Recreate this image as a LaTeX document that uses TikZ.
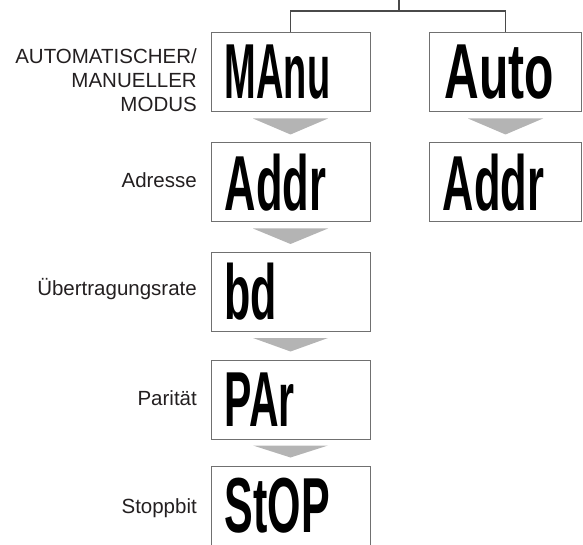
\documentclass[tikz,border=0pt]{standalone}
\usepackage{fontspec}
\setmainfont{Liberation Sans}
\usepackage{tikz}
\usetikzlibrary{
	positioning,
	calc
}
\usepackage{xcolor}
\definecolor{labelgray}{HTML}{231F20}
\definecolor{framegray}{HTML}{707070}
\definecolor{linegray}{HTML}{4A4A4A}
\definecolor{flowgray}{HTML}{B4B4B4}

\tikzset{
	lcdbox/.style={draw=framegray, line width=1pt, minimum height=79pt, inner sep=0pt},
	lcdtext/.style={anchor=west, inner sep=0pt, font=\bfseries\fontsize{50}{50}\selectfont},
	steplabel/.style={anchor=base east, inner sep=0pt, text=labelgray, font=\fontsize{20.5}{24}\selectfont},
	flow/.style={fill=flowgray},
	link/.style={draw=linegray, line width=1.3pt}
}

\begin{document}
\begin{tikzpicture}[x=1pt,y=1pt]
		
		\useasboundingbox (0,0) rectangle (583,544);
		
		% Displays, left column
		\node[lcdbox, minimum width=159pt] (manu) at (290.5,471.5) {};
		\node[lcdbox, minimum width=159pt] (addrL) at (290.5,361.5) {};
		\node[lcdbox, minimum width=159pt] (bd) at (290.5,252) {};
		\node[lcdbox, minimum width=159pt] (par) at (290.5,144.5) {};
		\node[lcdbox, minimum width=159pt] (stop) at (290.5,38.5) {};
		
		% Displays, right column
		\node[lcdbox, minimum width=152.5pt] (auto) at (505.5,471.5) {};
		\node[lcdbox, minimum width=152.5pt] (addrR) at (505.5,361.5) {};
		
		% Readings
		\node[lcdtext] (manuT) at ([xshift=14pt]manu.west) {\scalebox{0.76}[1.56]{MAnu}};
		\node[lcdtext] (addrLT) at ([xshift=14pt]addrL.west) {\scalebox{0.87}[1.56]{Addr}};
		\node[lcdtext] (bdT) at ([xshift=14pt]bd.west) {\scalebox{0.86}[1.56]{bd}};
		\node[lcdtext] (parT) at ([xshift=14pt]par.west) {\scalebox{0.82}[1.56]{PAr}};
		\node[lcdtext] (stopT) at ([xshift=14pt]stop.west) {\scalebox{0.86}[1.56]{StOP}};
		\node[lcdtext] (autoT) at ([xshift=16pt]auto.west) {\scalebox{0.96}[1.56]{Auto}};
		\node[lcdtext] (addrRT) at ([xshift=14pt]addrR.west) {\scalebox{0.87}[1.56]{Addr}};
		
		% Labels
		\node[steplabel, anchor=east, align=right] (modeL) at (197,463.5)
		{AUTOMATISCHER/\\MANUELLER\\MODUS};
		\node[steplabel] (addrN) at (197,356) {Adresse};
		\node[steplabel] (bdN) at (197,248) {Übertragungsrate};
		\node[steplabel] (parN) at (197,139) {Parität};
		\node[steplabel] (stopN) at (197,31) {Stoppbit};
		
		% Flow arrows
		\fill[flow] ($(manu.south)+(-37.5,-6)$) -- ($(manu.south)+(37.5,-6)$) -- ($(addrL.north)+(0,8)$) -- cycle;
		\fill[flow] ($(addrL.south)+(-37.5,-6)$) -- ($(addrL.south)+(37.5,-6)$) -- ($(bd.north)+(0,8)$) -- cycle;
		\fill[flow] ($(bd.south)+(-37.5,-6)$) -- ($(bd.south)+(37.5,-6)$) -- ($(par.north)+(0,8)$) -- cycle;
		\fill[flow] ($(par.south)+(-37.5,-6)$) -- ($(par.south)+(37.5,-6)$) -- ($(stop.north)+(0,8)$) -- cycle;
		\fill[flow] ($(auto.south)+(-37.5,-6)$) -- ($(auto.south)+(37.5,-6)$) -- ($(addrR.north)+(0,8)$) -- cycle;
		
		% Fork on top
		\coordinate (stem) at (399,544);
		\draw[link] (stem) -- ++(0,-11) coordinate (fork);
		\draw[link] (manu.north) |- (fork) -| (auto.north);
		
	\end{tikzpicture}
\end{document}
